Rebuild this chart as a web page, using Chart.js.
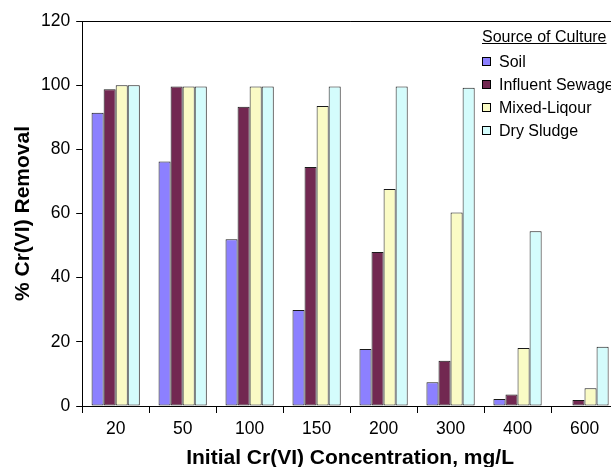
<!DOCTYPE html>
<html><head><meta charset="utf-8">
<script src="https://cdn.jsdelivr.net/npm/chart.js@4/dist/chart.umd.min.js"></script>
<style>
html,body{margin:0;padding:0;background:#fff;overflow:hidden;}
#wrap{position:relative;width:611px;height:467px;overflow:hidden;}
#c{position:absolute;left:0;top:0;}
#legend{position:absolute;left:482px;top:27px;font-family:"Liberation Sans",Arial,sans-serif;font-size:16px;color:#000;}
#legend .ttl{text-decoration:underline;white-space:nowrap;height:23px;line-height:19px;}
#legend .it{display:flex;align-items:center;height:23px;white-space:nowrap;}
#legend .sw{width:7px;height:7px;border:1px solid #000;margin-right:8px;}
</style></head>
<body><div id="wrap"><canvas id="c" width="620" height="467"></canvas><div id="legend"></div></div>
<script>
const categories = ["20","50","100","150","200","300","400","600"];
const seriesNames = ["Soil","Influent Sewage","Mixed-Liqour","Dry Sludge"];
const soil     = [91.4, 76.2, 52.0, 29.9, 17.8, 7.4, 2.2, 0];
const influent = [98.7, 99.6, 93.3, 74.5, 48.0, 14.1, 3.6, 1.9];
const mixed    = [100, 99.6, 99.6, 93.5, 67.6, 60.3, 18.1, 5.5];
const drySludge= [100, 99.6, 99.6, 99.6, 99.6, 99.2, 54.5, 18.5];
const yTicks = [0,20,40,60,80,100,120];
const legendTitle = "Source of Culture";
const colors = ["#8C80FF","#722851","#FAFBC5","#D4FCFC"];

const seriesData = [soil, influent, mixed, drySludge];
const FONT = "'Liberation Sans', Arial, sans-serif";

const borderPlugin = {
  id:'border',
  afterDraw(chart){
    const {ctx, chartArea:a} = chart;
    ctx.save();
    ctx.strokeStyle='#000'; ctx.lineWidth=1;
    ctx.beginPath();
    ctx.moveTo(a.left, a.top+0.5); ctx.lineTo(a.right, a.top+0.5);
    ctx.moveTo(a.right-0.5, a.top); ctx.lineTo(a.right-0.5, a.bottom);
    ctx.stroke();
    ctx.restore();
  }
};

new Chart(document.getElementById('c'), {
  type:'bar',
  data:{
    labels:categories,
    datasets: seriesNames.map((n,i)=>({
      label:n, data:seriesData[i], backgroundColor:colors[i],
      borderColor:'#1a1a1a', borderWidth:1, borderSkipped:false,
      barPercentage:1.0, categoryPercentage:0.72
    }))
  },
  options:{
    responsive:false, animation:false,
    layout:{padding:{left:1,right:2,top:21,bottom:0}},
    plugins:{legend:{display:false}, tooltip:{enabled:false}},
    scales:{
      x:{
        grid:{display:true, drawOnChartArea:false, drawTicks:true, tickLength:7, color:'#000', offset:true},
        border:{color:'#000', width:1},
        ticks:{color:'#000', font:{family:FONT, size:17.5}, padding:6},
        title:{display:true, text:'Initial Cr(VI) Concentration, mg/L', color:'#000',
          font:{family:FONT, size:21, weight:'bold', lineHeight:1}, padding:{top:1.5,bottom:-1.5}}
      },
      y:{
        min:0, max:120,
        afterBuildTicks(axis){ axis.ticks = yTicks.map(v=>({value:v})); },
        grid:{display:true, drawOnChartArea:false, drawTicks:true, tickLength:6, color:'#000'},
        border:{color:'#000', width:1},
        ticks:{color:'#000', font:{family:FONT, size:17.5}, padding:6},
        title:{display:true, text:'% Cr(VI) Removal', color:'#000',
          font:{family:FONT, size:21, weight:'bold', lineHeight:1}, padding:{top:12,bottom:1}}
      }
    }
  },
  plugins:[borderPlugin]
});

const lg = document.getElementById('legend');
const t = document.createElement('div'); t.className='ttl'; t.textContent=legendTitle; lg.appendChild(t);
seriesNames.forEach((n,i)=>{
  const d=document.createElement('div'); d.className='it';
  const s=document.createElement('span'); s.className='sw'; s.style.background=colors[i];
  const l=document.createElement('span'); l.textContent=n;
  d.appendChild(s); d.appendChild(l); lg.appendChild(d);
});
</script></body></html>
